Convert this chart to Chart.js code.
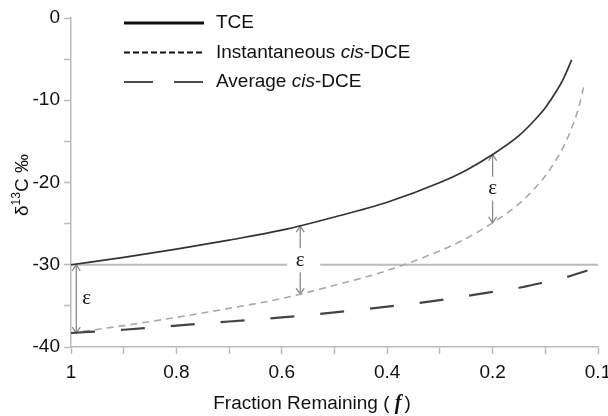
<!DOCTYPE html>
<html>
<head>
<meta charset="utf-8">
<script src="https://cdn.jsdelivr.net/npm/chart.js@4/dist/chart.umd.min.js"></script>
<style>
  html, body { margin: 0; padding: 0; background: #fff; }
  #wrap { width: 608px; height: 416px; }
</style>
</head>
<body>
<div id="wrap"><canvas id="chart" width="608" height="416"></canvas></div>
<script>
// values (fraction remaining f, delta13C permil)
const fTce = [1, 0.9, 0.8, 0.7, 0.6, 0.5, 0.4, 0.3, 0.25, 0.2, 0.15, 0.12, 0.1, 0.08, 0.065, 0.05];
const tce = [-30, -29.1, -28.1, -27.0, -25.8, -24.2, -22.4, -20.0, -18.5, -16.6, -14.3, -12.4, -10.9, -9.0, -7.3, -5.1];

const fInst = [1, 0.9, 0.8, 0.7, 0.6, 0.5, 0.4, 0.3, 0.25, 0.2, 0.15, 0.12, 0.1, 0.08, 0.065, 0.05, 0.04, 0.03, 0.026];
const instDce = [-38.3, -37.4, -36.4, -35.3, -34.1, -32.5, -30.7, -28.3, -26.8, -24.9, -22.6, -20.7, -19.2, -17.3, -15.6, -13.4, -11.6, -9.2, -8.0];

const fAvg = [1, 0.9, 0.8, 0.7, 0.6, 0.5, 0.4, 0.3, 0.2, 0.15, 0.1, 0.07, 0.05, 0.02];
const avgDce = [-38.3, -37.9, -37.4, -36.9, -36.4, -35.8, -35.1, -34.3, -33.3, -32.8, -32.1, -31.7, -31.3, -30.7];

const seriesNames = ["TCE", "Instantaneous cis-DCE", "Average cis-DCE"];

const xTicks = [0, 0.1, 0.2, 0.3, 0.4, 0.5, 0.6, 0.7, 0.8, 0.9, 1];
const xMajorTicks = [1, 0.8, 0.6, 0.4, 0.2, 0];
const xMajorLabels = ["1", "0.8", "0.6", "0.4", "0.2", "0.1"];
const yTicks = [-40, -35, -30, -25, -20, -15, -10, -5, 0];

const initialDelta = -30;
// enrichment arrows: f position, upper and lower delta
const epsF = [0.99, 0.565, 0.2];
const epsTop = [-30, -25.3, -16.6];
const epsBottom = [-38.3, -33.6, -24.9];

const AXIS = "#bcbcbc";
const TEXT = "#111";
const FONT = '"Liberation Sans", Arial, sans-serif';
Chart.defaults.font.family = FONT;
Chart.defaults.color = TEXT;

function pts(xs, ys) { return xs.map((x, i) => ({ x, y: ys[i] })); }

function arrowHead(ctx, x, y, dir) {
  ctx.beginPath();
  ctx.moveTo(x - 4, y - dir * 6);
  ctx.lineTo(x, y);
  ctx.lineTo(x + 4, y - dir * 6);
  ctx.stroke();
}

const decor = {
  id: "decor",
  beforeDatasetsDraw(chart) {
    const { ctx, chartArea, scales: { x, y } } = chart;
    ctx.save();
    // reference line at the initial value, broken for the middle label
    const yRef = y.getPixelForValue(initialDelta);
    const gapX = x.getPixelForValue(epsF[1]);
    ctx.strokeStyle = AXIS;
    ctx.lineWidth = 2;
    ctx.beginPath();
    ctx.moveTo(chartArea.left, yRef);
    ctx.lineTo(gapX - 13, yRef);
    ctx.moveTo(gapX + 20, yRef);
    ctx.lineTo(chartArea.right, yRef);
    ctx.stroke();

    // epsilon arrows
    ctx.strokeStyle = "#8a8a8a";
    ctx.lineWidth = 1.3;
    ctx.fillStyle = TEXT;
    ctx.font = '21px "Liberation Serif", serif';
    ctx.textBaseline = "middle";
    epsF.forEach((f, i) => {
      const px = x.getPixelForValue(f);
      const y1 = y.getPixelForValue(epsTop[i]);
      const y2 = y.getPixelForValue(epsBottom[i]);
      const ym = (y1 + y2) / 2;
      ctx.beginPath();
      if (i === 0) {
        ctx.moveTo(px, y1); ctx.lineTo(px, y2);
      } else {
        ctx.moveTo(px, y1); ctx.lineTo(px, ym - 12);
        ctx.moveTo(px, ym + 12); ctx.lineTo(px, y2);
      }
      ctx.stroke();
      arrowHead(ctx, px, y1, -1);
      arrowHead(ctx, px, y2, 1);
      if (i === 0) {
        ctx.textAlign = "left";
        ctx.fillText("\u03b5", px + 6, ym);
      } else {
        ctx.textAlign = "center";
        ctx.fillText("\u03b5", px, ym);
      }
    });
    ctx.restore();
  },
  afterDraw(chart) {
    const { ctx, chartArea } = chart;
    ctx.save();
    ctx.fillStyle = TEXT;
    const big = "19px " + FONT;
    const small = "12px " + FONT;

    // legend
    const samples = [
      { w: 3, dash: [], color: "#111" },
      { w: 2, dash: [6, 3], color: "#111" },
      { w: 1.4, dash: [29, 21], color: "#111" }
    ];
    const x0 = chartArea.left + 53, x1 = chartArea.left + 133, tx = chartArea.left + 145;
    seriesNames.forEach((name, i) => {
      const ly = chartArea.top + 5 + i * 29.5;
      ctx.strokeStyle = samples[i].color;
      ctx.lineWidth = samples[i].w;
      ctx.setLineDash(samples[i].dash);
      ctx.beginPath();
      ctx.moveTo(x0, ly);
      ctx.lineTo(x1, ly);
      ctx.stroke();
      ctx.setLineDash([]);
      ctx.textAlign = "left";
      ctx.textBaseline = "middle";
      let cx = tx;
      name.split(/(cis)/).forEach(part => {
        if (!part) return;
        ctx.font = (part === "cis" ? "italic " : "") + big;
        ctx.fillText(part, cx, ly);
        cx += ctx.measureText(part).width;
      });
    });

    // y title: delta 13C permil, rotated
    ctx.save();
    ctx.translate(28, 185);
    ctx.rotate(-Math.PI / 2);
    ctx.textBaseline = "alphabetic";
    ctx.textAlign = "left";
    ctx.font = big; const wD = ctx.measureText("\u03b4").width; const wC = ctx.measureText("C \u2030").width;
    ctx.font = small; const w13 = ctx.measureText("13").width;
    let sx = -(wD + w13 + wC) / 2;
    ctx.font = big; ctx.fillText("\u03b4", sx, 0); sx += wD;
    ctx.font = small; ctx.fillText("13", sx, -8); sx += w13;
    ctx.font = big; ctx.fillText("C \u2030", sx, 0);
    ctx.restore();

    // x title with italic f
    const p1 = "Fraction Remaining ( ", p2 = "f", p3 = ")";
    ctx.textBaseline = "alphabetic";
    ctx.textAlign = "left";
    ctx.font = big; const w1 = ctx.measureText(p1).width, w3 = ctx.measureText(p3).width;
    const fFont = 'bold italic 20px "Liberation Serif", serif';
    ctx.font = fFont; const w2 = ctx.measureText(p2).width + 3;
    let bx = 312 - (w1 + w2 + w3) / 2;
    const by = 409;
    ctx.font = big; ctx.fillText(p1, bx, by); bx += w1;
    ctx.font = fFont; ctx.fillText(p2, bx, by); bx += w2;
    ctx.font = big; ctx.fillText(p3, bx, by);
    ctx.restore();
  }
};

new Chart(document.getElementById("chart"), {
  type: "line",
  data: {
    datasets: [
      {
        label: seriesNames[0],
        data: pts(fTce, tce),
        borderColor: "#333",
        borderWidth: 1.7,
        order: 0
      },
      {
        label: seriesNames[1],
        data: pts(fInst, instDce),
        borderColor: "#aaa",
        borderWidth: 1.6,
        borderDash: [7, 5],
        order: 2
      },
      {
        label: seriesNames[2],
        data: pts(fAvg, avgDce),
        borderColor: "#444",
        borderWidth: 2.2,
        borderDash: [24, 26],
        order: 1
      }
    ]
  },
  options: {
    responsive: false,
    animation: false,
    parsing: false,
    cubicInterpolationMode: "monotone",
    elements: { point: { radius: 0 }, line: { fill: false } },
    layout: { padding: { top: 18, right: 10, left: 0, bottom: 0 } },
    plugins: { legend: { display: false }, tooltip: { enabled: false } },
    scales: {
      x: {
        type: "linear",
        min: 0,
        max: 1,
        reverse: true,
        afterBuildTicks: s => { s.ticks = xTicks.map(v => ({ value: v })); },
        afterFit: s => { s.height = 69; s.paddingRight = 10; s.paddingLeft = 0; },
        ticks: {
          autoSkip: false,
          maxRotation: 0,
          padding: 7,
          font: { size: 19 },
          color: TEXT,
          callback: v => {
            const i = xMajorTicks.findIndex(t => Math.abs(t - v) < 1e-9);
            return i >= 0 ? xMajorLabels[i] : "";
          }
        },
        grid: { drawOnChartArea: false, drawTicks: true, tickLength: 7, tickColor: AXIS, tickWidth: 1.5 },
        border: { display: true, color: AXIS, width: 1.5 }
      },
      y: {
        type: "linear",
        min: -40,
        max: 0,
        afterBuildTicks: s => { s.ticks = yTicks.map(v => ({ value: v })); },
        afterFit: s => { s.width = 71; },
        ticks: {
          autoSkip: false,
          padding: 4,
          font: { size: 19 },
          color: TEXT,
          callback: v => (v % 10 === 0 ? String(v) : "")
        },
        grid: { drawOnChartArea: false, drawTicks: true, tickLength: 7, tickColor: AXIS, tickWidth: 1.5 },
        border: { display: true, color: AXIS, width: 1.5 }
      }
    }
  },
  plugins: [decor]
});
</script>
</body>
</html>
